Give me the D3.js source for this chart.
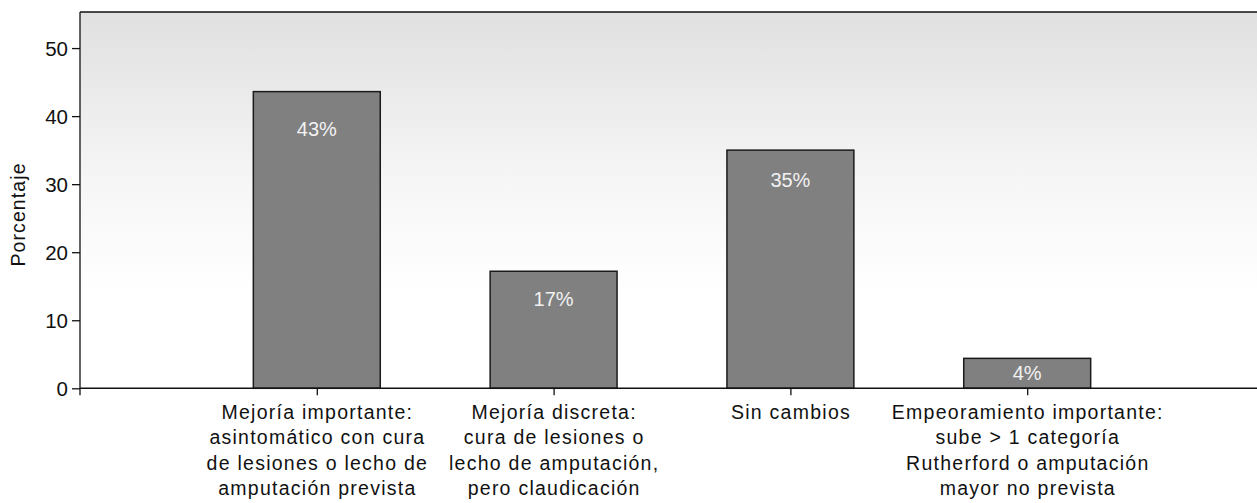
<!DOCTYPE html>
<html><head><meta charset="utf-8">
<script src="https://cdn.jsdelivr.net/npm/d3@7"></script>
<style>
html,body{margin:0;padding:0;background:#fff;}
svg{display:block;font-family:"Liberation Sans",Arial,Helvetica,sans-serif;}
</style></head>
<body>
<svg id="chart" width="1257" height="503"></svg>
<script>
const categories = [
  ["Mejoría importante:", "asintomático con cura", "de lesiones o lecho de", "amputación prevista"],
  ["Mejoría discreta:", "cura de lesiones o", "lecho de amputación,", "pero claudicación"],
  ["Sin cambios"],
  ["Empeoramiento importante:", "sube > 1 categoría", "Rutherford o amputación", "mayor no prevista"]
];
const values = [43.6, 17.2, 35.0, 4.4];
const valueLabels = ["43%", "17%", "35%", "4%"];
const yTicks = [0, 10, 20, 30, 40, 50];
const yTitle = "Porcentaje";

const svg = d3.select("#chart");
const W = 1257, H = 503;
const m = {left: 80, top: 12, right: -7};
const plotRight = W - m.right;
const yMax = 55.3;

const ids = categories.map((c, i) => "c" + i);
const x = d3.scalePoint().domain(ids).range([m.left, plotRight]).padding(1);
const bw = x.step() * 0.536;
const y = d3.scaleLinear().domain([0, yMax]).range([388.3, m.top]);

// gradient background
const defs = svg.append("defs");
const g = defs.append("linearGradient").attr("id", "bg").attr("x1", 0).attr("y1", 0).attr("x2", 0).attr("y2", 1);
g.append("stop").attr("offset", "0%").attr("stop-color", "#e0e0e0");
g.append("stop").attr("offset", "45%").attr("stop-color", "#f6f6f6");
g.append("stop").attr("offset", "75%").attr("stop-color", "#ffffff");
g.append("stop").attr("offset", "100%").attr("stop-color", "#ffffff");

svg.append("rect").attr("x", m.left).attr("y", y(yMax)).attr("width", plotRight - m.left)
  .attr("height", y(0) - y(yMax)).attr("fill", "url(#bg)");

// top border
svg.append("line").attr("x1", m.left).attr("x2", W).attr("y1", y(yMax)).attr("y2", y(yMax))
  .attr("stroke", "#111").attr("stroke-width", 1.3);

// bars
svg.selectAll("rect.bar").data(values).join("rect").attr("class", "bar")
  .attr("x", (d, i) => x(ids[i]) - bw / 2)
  .attr("y", d => y(d))
  .attr("width", bw)
  .attr("height", d => y(0) - y(d))
  .attr("fill", "#808080").attr("stroke", "#1a1a1a").attr("stroke-width", 1.5);

// value labels
svg.selectAll("text.val").data(values).join("text").attr("class", "val")
  .attr("x", (d, i) => x(ids[i]))
  .attr("y", d => {
    const h = y(0) - y(d);
    const off = Math.min(Math.max(28, 0.125 * h), h / 2);
    return y(d) + off + 7;
  })
  .attr("text-anchor", "middle")
  .attr("font-size", 20)
  .attr("fill", "#f2f2f2")
  .text((d, i) => valueLabels[i]);

// y axis
const ya = svg.append("g").attr("transform", `translate(${m.left},0)`)
  .call(d3.axisLeft(y).tickValues(yTicks).tickSize(8).tickPadding(4).tickSizeOuter(0));
ya.select(".domain").remove();
ya.selectAll(".tick line").attr("stroke", "#111").attr("stroke-width", 1.3);
ya.selectAll(".tick text").attr("font-size", 20.5).attr("fill", "#111")
  .attr("font-family", "'Liberation Sans',Arial,sans-serif").attr("dy", "0.36em");
svg.append("line").attr("x1", m.left).attr("x2", m.left).attr("y1", y(yMax)).attr("y2", y(0) + 7)
  .attr("stroke", "#111").attr("stroke-width", 1.3);

// x axis
const xa = svg.append("g").attr("transform", `translate(0,${y(0)})`)
  .call(d3.axisBottom(x).tickSize(7).tickFormat("").tickSizeOuter(0));
xa.select(".domain").remove();
xa.selectAll(".tick line").attr("stroke", "#111").attr("stroke-width", 1.3);
svg.append("line").attr("x1", m.left).attr("x2", W).attr("y1", y(0)).attr("y2", y(0))
  .attr("stroke", "#111").attr("stroke-width", 1.5);

// category labels
categories.forEach((lines, i) => {
  const t = svg.append("text").attr("text-anchor", "middle").attr("font-size", 19.5)
    .attr("letter-spacing", 1.25).attr("fill", "#111");
  lines.forEach((ln, j) => {
    t.append("tspan").attr("x", x(ids[i]) + 0.6).attr("y", 419 + j * 25.3).text(ln);
  });
});

// y title
svg.append("text").attr("transform", `translate(25,214.5) rotate(-90)`)
  .attr("text-anchor", "middle").attr("font-size", 19.5).attr("letter-spacing", 1.1)
  .attr("fill", "#111").text(yTitle);
</script>
</body></html>
